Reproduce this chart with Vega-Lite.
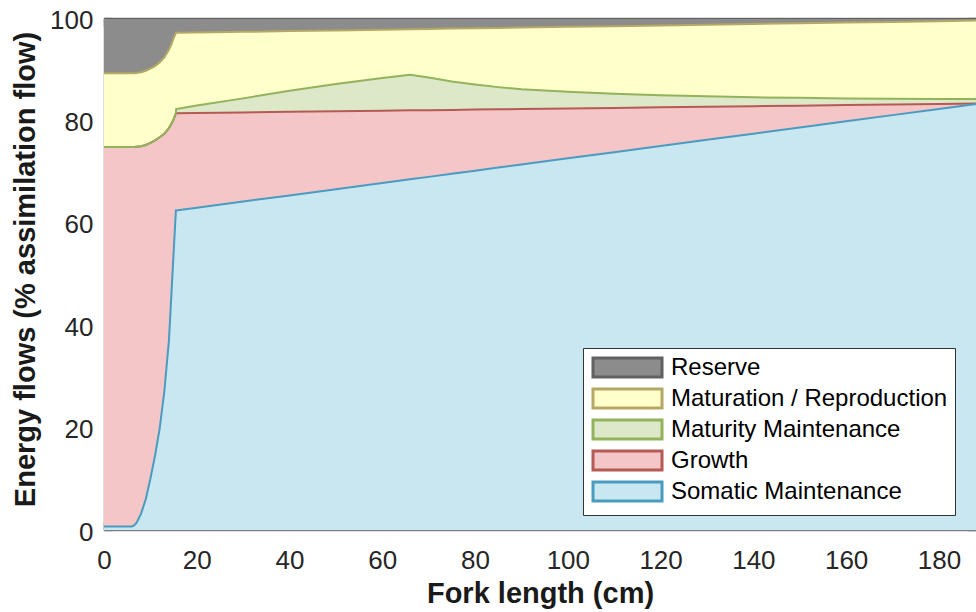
{
  "$schema": "https://vega.github.io/schema/vega-lite/v6.json",
  "width": 872,
  "height": 512,
  "autosize": "none",
  "padding": {"left": 104, "top": 18, "right": 0, "bottom": 82},
  "background": "white",
  "config": {
    "view": {"stroke": null},
    "font": "Liberation Sans",
    "axis": {
      "domainColor": "#7f7f7f", "domainWidth": 1.5, "tickColor": "#7f7f7f", "tickWidth": 1.5,
      "tickSize": -8, "grid": false, "labelFont": "Liberation Sans", "labelFontSize": 26,
      "labelColor": "#262626", "titleFont": "Liberation Sans", "titleFontSize": 29,
      "titleFontWeight": "bold", "titleColor": "#1a1a1a", "zindex": 1
    }
  },
  "data": {"values": [
    {"x": 0, "somatic": 0.7, "growth": 74.8, "maturity": 74.8, "maturation": 89.2, "total": 100},
    {"x": 3, "somatic": 0.7, "growth": 74.8, "maturity": 74.8, "maturation": 89.2, "total": 100},
    {"x": 6, "somatic": 0.7, "growth": 74.8, "maturity": 74.8, "maturation": 89.2, "total": 100},
    {"x": 6.5, "somatic": 0.9, "growth": 74.8, "maturity": 74.8, "maturation": 89.2, "total": 100},
    {"x": 7, "somatic": 1.4, "growth": 74.85, "maturity": 74.85, "maturation": 89.25, "total": 100},
    {"x": 8, "somatic": 3.2, "growth": 74.95, "maturity": 74.95, "maturation": 89.4, "total": 100},
    {"x": 9, "somatic": 6.0, "growth": 75.2, "maturity": 75.2, "maturation": 89.7, "total": 100},
    {"x": 10, "somatic": 10.0, "growth": 75.6, "maturity": 75.6, "maturation": 90.1, "total": 100},
    {"x": 11, "somatic": 14.5, "growth": 76.1, "maturity": 76.1, "maturation": 90.6, "total": 100},
    {"x": 12, "somatic": 19.8, "growth": 76.7, "maturity": 76.7, "maturation": 91.3, "total": 100},
    {"x": 13, "somatic": 27.0, "growth": 77.4, "maturity": 77.4, "maturation": 92.3, "total": 100},
    {"x": 14, "somatic": 37.0, "growth": 78.5, "maturity": 78.5, "maturation": 93.8, "total": 100},
    {"x": 14.5, "somatic": 45.5, "growth": 79.3, "maturity": 79.3, "maturation": 94.8, "total": 100},
    {"x": 15, "somatic": 54.0, "growth": 80.2, "maturity": 80.2, "maturation": 96.0, "total": 100},
    {"x": 15.5, "somatic": 62.4, "growth": 81.4, "maturity": 81.4, "maturation": 97.1, "total": 100},
    {"x": 15.55, "somatic": 62.4, "growth": 81.4, "maturity": 82.2, "maturation": 97.1, "total": 100},
    {"x": 20, "somatic": 62.94, "growth": 81.45, "maturity": 82.9, "maturation": 97.16, "total": 100},
    {"x": 30, "somatic": 64.15, "growth": 81.56, "maturity": 84.3, "maturation": 97.3, "total": 100},
    {"x": 40, "somatic": 65.35, "growth": 81.67, "maturity": 85.8, "maturation": 97.44, "total": 100},
    {"x": 50, "somatic": 66.56, "growth": 81.78, "maturity": 87.1, "maturation": 97.58, "total": 100},
    {"x": 60, "somatic": 67.77, "growth": 81.89, "maturity": 88.3, "maturation": 97.72, "total": 100},
    {"x": 66, "somatic": 68.49, "growth": 81.96, "maturity": 88.9, "maturation": 97.8, "total": 100},
    {"x": 70, "somatic": 68.97, "growth": 82.0, "maturity": 88.4, "maturation": 97.86, "total": 100},
    {"x": 75, "somatic": 69.58, "growth": 82.05, "maturity": 87.6, "maturation": 97.93, "total": 100},
    {"x": 80, "somatic": 70.18, "growth": 82.11, "maturity": 87.0, "maturation": 98.0, "total": 100},
    {"x": 85, "somatic": 70.78, "growth": 82.16, "maturity": 86.5, "maturation": 98.07, "total": 100},
    {"x": 90, "somatic": 71.38, "growth": 82.22, "maturity": 86.1, "maturation": 98.14, "total": 100},
    {"x": 100, "somatic": 72.59, "growth": 82.33, "maturity": 85.6, "maturation": 98.27, "total": 100},
    {"x": 110, "somatic": 73.8, "growth": 82.44, "maturity": 85.2, "maturation": 98.41, "total": 100},
    {"x": 120, "somatic": 75.0, "growth": 82.55, "maturity": 84.9, "maturation": 98.55, "total": 100},
    {"x": 130, "somatic": 76.21, "growth": 82.66, "maturity": 84.7, "maturation": 98.69, "total": 100},
    {"x": 140, "somatic": 77.41, "growth": 82.77, "maturity": 84.5, "maturation": 98.83, "total": 100},
    {"x": 150, "somatic": 78.62, "growth": 82.88, "maturity": 84.4, "maturation": 98.97, "total": 100},
    {"x": 160, "somatic": 79.83, "growth": 82.99, "maturity": 84.3, "maturation": 99.1, "total": 100},
    {"x": 170, "somatic": 81.03, "growth": 83.1, "maturity": 84.25, "maturation": 99.24, "total": 100},
    {"x": 180, "somatic": 82.24, "growth": 83.21, "maturity": 84.2, "maturation": 99.38, "total": 100},
    {"x": 188, "somatic": 83.2, "growth": 83.3, "maturity": 84.2, "maturation": 99.5, "total": 100}
  ]},
  "resolve": {"axis": {"x": "independent", "y": "independent"}},
  "layer": [
    {
      "mark": {"type": "area", "opacity": 1, "clip": true},
      "encoding": {
        "x": {"field": "x", "type": "quantitative", "scale": {"domain": [0, 188], "nice": false, "zero": false},
          "axis": {"orient": "bottom", "title": "Fork length (cm)", "values": [0, 20, 40, 60, 80, 100, 120, 140, 160, 180],
            "labelPadding": 25, "labelFlush": false, "titleX": 436, "titleY": 72, "titleBaseline": "alphabetic", "titleAlign": "center"}},
        "y": {"field": "somatic", "type": "quantitative", "scale": {"domain": [0, 100], "nice": false},
          "axis": {"orient": "left", "title": "Energy flows (% assimilation flow)", "values": [0, 20, 40, 60, 80, 100],
            "labelPadding": 19, "labelOffset": 2, "labelFlush": false, "titleX": -70, "titleY": 251, "titleBaseline": "alphabetic", "titleAlign": "center", "titleAngle": 270}},
        "fill": {"datum": "Somatic Maintenance", "type": "nominal",
          "scale": {"domain": ["Reserve", "Maturation / Reproduction", "Maturity Maintenance", "Growth", "Somatic Maintenance"],
            "range": ["#8c8c8c", "#ffffcc", "#dde8c9", "#f4c6c8", "#c9e7f1"]},
          "legend": {"orient": "none", "legendX": 479, "legendY": 330, "title": null,
            "symbolType": "M-0.864,-0.864H5.41V0.864H-0.864Z", "symbolSize": 484, "symbolStrokeWidth": 3, "symbolOpacity": 1,
            "labelFont": "Liberation Sans", "labelFontSize": 24, "labelColor": "#000000", "labelOffset": 56, "labelLimit": 0,
            "rowPadding": -2, "padding": 7, "fillColor": "white", "strokeColor": "#333333", "cornerRadius": 0}}
      }
    },
    {
      "mark": {"type": "area", "opacity": 1, "clip": true},
      "encoding": {
        "x": {"field": "x", "type": "quantitative", "axis": null},
        "y": {"field": "growth", "type": "quantitative", "axis": null},
        "y2": {"field": "somatic"},
        "fill": {"datum": "Growth", "type": "nominal"}
      }
    },
    {
      "mark": {"type": "area", "opacity": 1, "clip": true},
      "encoding": {
        "x": {"field": "x", "type": "quantitative", "axis": null},
        "y": {"field": "maturity", "type": "quantitative", "axis": null},
        "y2": {"field": "growth"},
        "fill": {"datum": "Maturity Maintenance", "type": "nominal"}
      }
    },
    {
      "mark": {"type": "area", "opacity": 1, "clip": true},
      "encoding": {
        "x": {"field": "x", "type": "quantitative", "axis": null},
        "y": {"field": "maturation", "type": "quantitative", "axis": null},
        "y2": {"field": "maturity"},
        "fill": {"datum": "Maturation / Reproduction", "type": "nominal"}
      }
    },
    {
      "mark": {"type": "area", "opacity": 1, "clip": true},
      "encoding": {
        "x": {"field": "x", "type": "quantitative", "axis": null},
        "y": {"field": "total", "type": "quantitative", "axis": null},
        "y2": {"field": "maturation"},
        "fill": {"datum": "Reserve", "type": "nominal"}
      }
    },
    {
      "mark": {"type": "line", "strokeWidth": 2.2, "clip": true},
      "encoding": {
        "x": {"field": "x", "type": "quantitative",
          "axis": {"orient": "top", "title": null, "labels": false, "values": [0, 20, 40, 60, 80, 100, 120, 140, 160, 180]}},
        "y": {"field": "total", "type": "quantitative",
          "axis": {"orient": "right", "title": null, "labels": false, "values": [0, 20, 40, 60, 80, 100]}},
        "stroke": {"datum": "Reserve", "type": "nominal",
          "scale": {"domain": ["Reserve", "Maturation / Reproduction", "Maturity Maintenance", "Growth", "Somatic Maintenance"],
            "range": ["#616161", "#b5a866", "#92b35b", "#b55a55", "#4a9bc0"]},
          "legend": {"orient": "none", "legendX": 479, "legendY": 330, "title": null,
            "symbolType": "M-0.864,-0.864H5.41V0.864H-0.864Z", "symbolSize": 484, "symbolStrokeWidth": 3, "symbolOpacity": 1,
            "labelFont": "Liberation Sans", "labelFontSize": 24, "labelColor": "#000000", "labelOffset": 56, "labelLimit": 0,
            "rowPadding": -2, "padding": 7, "fillColor": "white", "strokeColor": "#333333", "cornerRadius": 0}}
      }
    },
    {
      "mark": {"type": "line", "strokeWidth": 2, "clip": true},
      "encoding": {
        "x": {"field": "x", "type": "quantitative", "axis": null},
        "y": {"field": "maturation", "type": "quantitative", "axis": null},
        "stroke": {"datum": "Maturation / Reproduction", "type": "nominal"}
      }
    },
    {
      "mark": {"type": "line", "strokeWidth": 2, "clip": true},
      "encoding": {
        "x": {"field": "x", "type": "quantitative", "axis": null},
        "y": {"field": "growth", "type": "quantitative", "axis": null},
        "stroke": {"datum": "Growth", "type": "nominal"}
      }
    },
    {
      "mark": {"type": "line", "strokeWidth": 2, "clip": true},
      "encoding": {
        "x": {"field": "x", "type": "quantitative", "axis": null},
        "y": {"field": "maturity", "type": "quantitative", "axis": null},
        "stroke": {"datum": "Maturity Maintenance", "type": "nominal"}
      }
    },
    {
      "mark": {"type": "line", "strokeWidth": 2, "clip": true},
      "encoding": {
        "x": {"field": "x", "type": "quantitative", "axis": null},
        "y": {"field": "somatic", "type": "quantitative", "axis": null},
        "stroke": {"datum": "Somatic Maintenance", "type": "nominal"}
      }
    }
  ]
}
